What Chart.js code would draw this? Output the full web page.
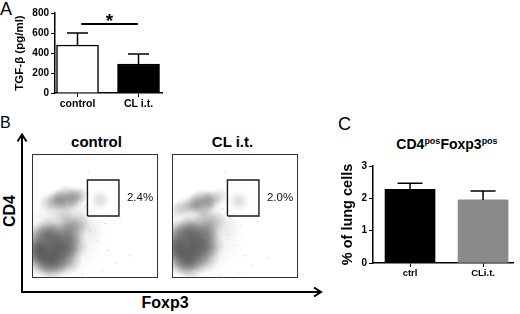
<!DOCTYPE html>
<html><head><meta charset="utf-8">
<script src="https://cdn.jsdelivr.net/npm/chart.js@4"></script>
<style>
html,body{margin:0;padding:0;background:#fff;width:520px;height:314px;overflow:hidden;}
body{position:relative;font-family:"Liberation Sans",Arial,sans-serif;color:#000;}
canvas{position:absolute;}
.t{position:absolute;white-space:nowrap;color:#000;}
.b{font-weight:bold;}
sup{font-size:9px;line-height:0;vertical-align:baseline;position:relative;top:-5px;}
</style></head><body>

<div class="t" style="left:0;top:0;font-size:18px;line-height:18px;">A</div>
<div class="t" style="left:0;top:115px;font-size:16px;line-height:16px;">B</div>
<div class="t" style="left:338px;top:115px;font-size:18px;line-height:18px;">C</div>

<div class="t b" style="left:46px;top:133px;width:101px;text-align:center;font-size:15px;line-height:18px;">control</div>
<div class="t b" style="left:182px;top:133px;width:101px;text-align:center;font-size:15px;line-height:18px;">CL i.t.</div>
<div class="t b" style="left:-20px;top:202px;width:60px;text-align:center;font-size:16px;line-height:18px;transform:rotate(-90deg);">CD4</div>
<div class="t b" style="left:115px;top:294px;width:100px;text-align:center;font-size:16px;line-height:18px;">Foxp3</div>
<div class="t b" style="left:380px;top:136px;width:134px;text-align:center;font-size:14px;line-height:16px;">CD4<sup>pos</sup>Foxp3<sup>pos</sup></div>

<svg width="520" height="314" style="position:absolute;left:0;top:0;">
  <path d="M22 292 V135 M17.5 141.5 L22 134.5 L26.5 141.5" fill="none" stroke="#000" stroke-width="2"/>
  <path d="M21 292 H321 M314 287.5 L321 292 L314 296.5" fill="none" stroke="#000" stroke-width="2"/>
</svg>

<canvas id="chartA" width="170" height="112" style="left:0;top:0;"></canvas>
<canvas id="chartC" width="190" height="135" style="left:330px;top:150px;"></canvas>
<canvas id="flowL" width="134" height="132" style="left:28px;top:150px;"></canvas>
<canvas id="flowR" width="134" height="132" style="left:168px;top:150px;"></canvas>

<script>
// ---------- Panel A data ----------
const tgfCategories = ['control', 'CL i.t.'];
const tgfValues = [480, 290];
const tgfErrors = [120, 100];
const tgfTickStep = 200;
const tgfMax = 800;
const tgfSigFrom = 1.06;
const tgfSigTo = 1.99;
const tgfSigLevel = 690;
const tgfSigLabel = '*';

// ---------- Panel C data ----------
const tregCategories = ['ctrl', 'CLi.t.'];
const tregValues = [2.28, 1.95];
const tregErrors = [0.19, 0.28];
const tregTickStep = 1;
const tregMax = 3;

// ---------- Panel B data (flow plots, axis units 0-100) ----------
const flowTitles = ['control', 'CL i.t.'];
const gatePercents = ['2.4%', '2.0%'];
const gateControl = [[44, 50], [44, 79], [69, 79], [69, 50], [44, 50]];
const gateCL = [[44, 50], [44, 79], [69, 79], [69, 50], [44, 50]];
// density blobs: [x, y, spread, density]
const densityControl = [
  [24, 34, 36, 0.12], [30, 52, 14, 0.08], [46, 40, 12, 0.05],
  [16, 23, 20, 0.60], [8, 16, 15, 0.52], [24, 30, 15, 0.50], [6, 32, 13, 0.45],
  [26, 16, 14, 0.45], [14, 38, 11, 0.40], [32, 37, 11, 0.36], [34, 26, 10, 0.30],
  [3, 22, 11, 0.45], [16, 10, 13, 0.40], [38, 44, 9, 0.20], [28, 44, 10, 0.22],
  [20, 56, 11, 0.10], [27, 64, 11, 0.40], [20, 63, 9, 0.34], [34, 65, 9, 0.32],
  [13, 61, 8, 0.18], [39, 67, 7, 0.16],
  [54, 63, 9, 0.16]
];
const densityCL = [
  [22, 34, 36, 0.12], [28, 50, 12, 0.08], [44, 40, 12, 0.05],
  [14, 26, 20, 0.60], [7, 17, 15, 0.52], [22, 32, 15, 0.50], [5, 35, 12, 0.42],
  [24, 18, 14, 0.44], [14, 40, 11, 0.38], [30, 38, 10, 0.32], [32, 26, 10, 0.27],
  [2, 25, 11, 0.45], [14, 11, 13, 0.40], [36, 46, 8, 0.17], [26, 46, 10, 0.20],
  [24, 61, 11, 0.40], [17, 59, 9, 0.32], [31, 63, 9, 0.32], [9, 57, 8, 0.20],
  [38, 66, 7, 0.16], [3, 55, 7, 0.10],
  [53, 62, 9, 0.16]
];
const sparseControl = [[46,38],[52,30],[60,22],[66,12],[58,44],[48,50],[42,58],[78,18],[70,48],[45,85],[56,6],[40,4]];
const sparseCL = [[45,35],[50,26],[58,18],[64,10],[55,42],[46,48],[40,56],[76,16],[68,46],[42,86],[54,4],[38,2]];

// ---------- setup ----------
Chart.defaults.font.family = '"Liberation Sans", Arial, sans-serif';
Chart.defaults.color = '#000';

function errorBars(errors) {
  return {
    id: 'errbars',
    afterDatasetsDraw(chart) {
      const meta = chart.getDatasetMeta(0);
      const ys = chart.scales.y;
      const c = chart.ctx;
      c.save();
      c.strokeStyle = '#000';
      c.lineWidth = 1.5;
      meta.data.forEach((bar, i) => {
        const v = chart.data.datasets[0].data[i].y;
        const top = ys.getPixelForValue(v + errors[i]);
        const half = bar.width / 4;
        c.beginPath();
        c.moveTo(bar.x, bar.y);
        c.lineTo(bar.x, top);
        c.moveTo(bar.x - half, top);
        c.lineTo(bar.x + half, top);
        c.stroke();
      });
      c.restore();
    }
  };
}

function barChart(id, cats, vals, errs, step, max, opts) {
  return new Chart(document.getElementById(id), {
    type: 'bar',
    data: {
      datasets: [{
        data: vals.map((v, i) => ({x: i + 1, y: v})),
        backgroundColor: opts.colors,
        borderColor: '#000',
        borderWidth: opts.borderWidth,
        barThickness: opts.barThickness
      }]
    },
    options: {
      responsive: false, animation: false, events: [],
      layout: {padding: opts.padding},
      plugins: {legend: {display: false}, tooltip: {enabled: false}},
      scales: {
        x: {
          type: 'linear', min: opts.xMin, max: opts.xMax, offset: false,
          afterFit: s => { s.height = opts.xHeight; },
          afterBuildTicks: s => { s.ticks = cats.map((c, i) => ({value: i + 1})); },
          ticks: {callback: v => cats[v - 1], font: {size: opts.xFont, weight: 'bold'}, padding: 1, maxRotation: 0, autoSkip: false},
          grid: {display: true, drawOnChartArea: false, drawTicks: true, tickLength: 4, color: '#000', offset: false},
          border: {display: true, color: '#000', width: 1.5}
        },
        y: {
          min: 0, max: max,
          afterFit: s => { s.width = opts.yWidth; },
          ticks: {stepSize: step, font: {size: 10, weight: 'bold'}, padding: 2},
          grid: {display: true, drawOnChartArea: false, drawTicks: true, tickLength: 4, color: '#000'},
          border: {display: true, color: '#000', width: 1.5},
          title: {display: true, text: opts.yTitle, font: {size: opts.yTitleSize, weight: 'bold'}, padding: {top: opts.yTitlePad, bottom: 0}}
        }
      }
    },
    plugins: [errorBars(errs)].concat(opts.extra || [])
  });
}

const sigPlugin = {
  id: 'sig',
  afterDatasetsDraw(chart) {
    const xs = chart.scales.x, ys = chart.scales.y, c = chart.ctx;
    const y = ys.getPixelForValue(tgfSigLevel);
    c.save();
    c.strokeStyle = '#000';
    c.lineWidth = 2;
    c.beginPath();
    c.moveTo(xs.getPixelForValue(tgfSigFrom), y);
    c.lineTo(xs.getPixelForValue(tgfSigTo), y);
    c.stroke();
    c.fillStyle = '#000';
    c.font = 'bold 19px "Liberation Sans", Arial';
    c.textAlign = 'center';
    c.textBaseline = 'alphabetic';
    c.fillText(tgfSigLabel, xs.getPixelForValue((tgfSigFrom + tgfSigTo) / 2), y + 3);
    c.restore();
  }
};

barChart('chartA', tgfCategories, tgfValues, tgfErrors, tgfTickStep, tgfMax, {
  colors: ['#ffffff', '#000000'], borderWidth: 1.5, barThickness: 42,
  padding: {left: 0, right: 8, top: 13, bottom: 0},
  xMin: 0.631, xMax: 2.385, xHeight: 19, yWidth: 55, xFont: 10.5,
  yTitle: 'TGF-β (pg/ml)', yTitleSize: 11.5, yTitlePad: 13,
  extra: [sigPlugin]
});

barChart('chartC', tregCategories, tregValues, tregErrors, tregTickStep, tregMax, {
  colors: ['#000000', '#8a8a8a'], borderWidth: 0, barThickness: 50,
  padding: {left: 0, right: 7, top: 16, bottom: 0},
  xMin: 0.493, xMax: 2.41, xHeight: 22, yWidth: 43, xFont: 9.5,
  yTitle: '% of lung cells', yTitleSize: 14.5, yTitlePad: 9
});

// ---------- flow plots ----------
const spriteCache = {};
function blobSprite(r, d) {
  const R = Math.max(1, Math.round(r));
  const key = R + '_' + d;
  if (spriteCache[key]) return spriteCache[key];
  const c = document.createElement('canvas');
  c.width = c.height = 2 * R;
  const g = c.getContext('2d');
  const grad = g.createRadialGradient(R, R, 0, R, R, R);
  const col = a => 'rgba(50,50,50,' + a.toFixed(3) + ')';
  grad.addColorStop(0, col(d));
  grad.addColorStop(0.25, col(d * 0.88));
  grad.addColorStop(0.5, col(d * 0.6));
  grad.addColorStop(0.75, col(d * 0.25));
  grad.addColorStop(1, col(0));
  g.fillStyle = grad;
  g.fillRect(0, 0, 2 * R, 2 * R);
  spriteCache[key] = c;
  return c;
}
function blobRadius(ctx) {
  const p = ctx.raw;
  if (!p) return 3;
  const sx = ctx.chart.scales.x;
  if (!sx) return 3;
  const r = Math.abs(sx.getPixelForValue(p.s) - sx.getPixelForValue(0));
  return isFinite(r) && r > 0 ? r : 3;
}
function blobStyle(ctx) {
  const p = ctx.raw;
  if (!p || !isFinite(p.d)) return 'circle';
  return blobSprite(blobRadius(ctx), p.d);
}

function flowChart(id, blobs, sparse, gate, pct) {
  const framePlugin = {
    id: 'frame',
    afterDatasetsDraw(chart) {
      const a = chart.chartArea, c = chart.ctx;
      const xs = chart.scales.x, ys = chart.scales.y;
      c.save();
      c.strokeStyle = '#333';
      c.lineWidth = 1;
      c.strokeRect(a.left + 0.5, a.top + 0.5, a.right - a.left - 1, a.bottom - a.top - 1);
      const gx = Math.max(...gate.map(p => p[0]));
      const gy = (Math.max(...gate.map(p => p[1])) + Math.min(...gate.map(p => p[1]))) / 2;
      c.fillStyle = '#111';
      c.font = '11.5px "Liberation Sans", Arial';
      c.textAlign = 'left';
      c.textBaseline = 'middle';
      c.fillText(pct, xs.getPixelForValue(gx) + 8, ys.getPixelForValue(gy));
      c.restore();
    }
  };
  return new Chart(document.getElementById(id), {
    type: 'scatter',
    data: {
      datasets: [
        {type: 'line', data: gate.map(p => ({x: p[0], y: p[1]})), borderColor: '#1a1a1a', borderWidth: 1.4, pointRadius: 0, fill: false, tension: 0},
        {data: sparse.map(p => ({x: p[0], y: p[1]})), pointRadius: 0.6, backgroundColor: 'rgba(120,120,120,0.45)', borderWidth: 0, clip: 0},
        {data: blobs.map(b => ({x: b[0], y: b[1], s: b[2], d: b[3]})),
         pointStyle: blobStyle, pointRadius: blobRadius, borderWidth: 0, clip: 0}
      ]
    },
    options: {
      responsive: false, animation: false, events: [],
      layout: {padding: 2},
      plugins: {legend: {display: false}, tooltip: {enabled: false}},
      scales: {
        x: {type: 'linear', min: 0, max: 100, display: false},
        y: {type: 'linear', min: 0, max: 100, display: false}
      }
    },
    plugins: [framePlugin]
  });
}

flowChart('flowL', densityControl, sparseControl, gateControl, gatePercents[0]);
flowChart('flowR', densityCL, sparseCL, gateCL, gatePercents[1]);
</script>
</body></html>
